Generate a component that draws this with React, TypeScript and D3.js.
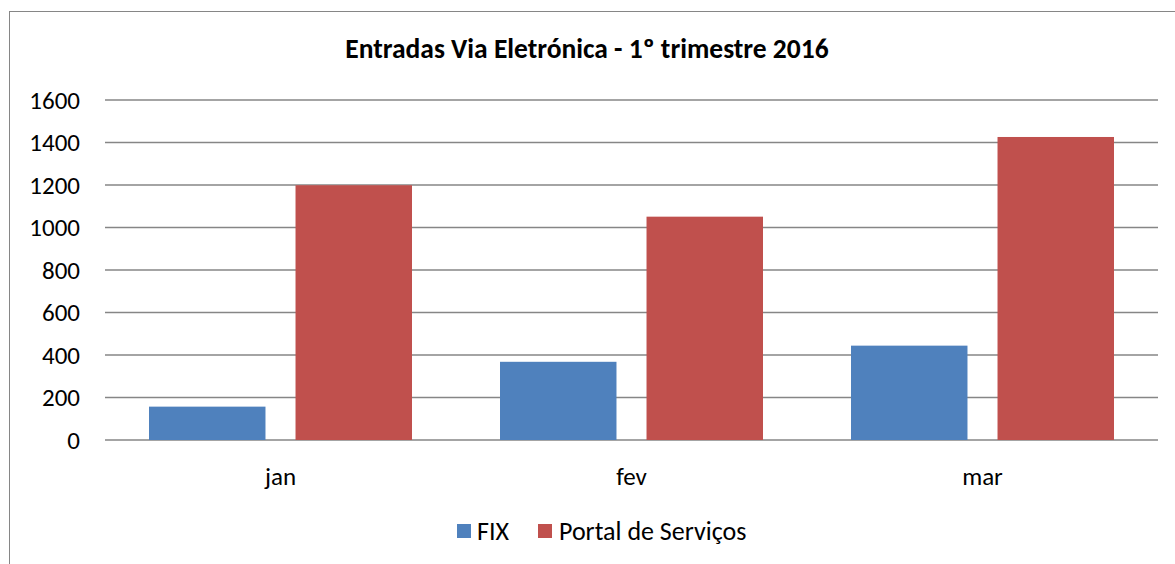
import React from "react"
import { scaleBand, scaleLinear } from "d3"

const months = ["jan", "fev", "mar"]
const seriesNames = ["FIX", "Portal de Serviços"]
const fixValues = [157, 368, 444]
const portalValues = [1199, 1051, 1426]
const yTicks = [0, 200, 400, 600, 800, 1000, 1200, 1400, 1600]
const colors = ["#4f81bd", "#c0504d"]

const App = () => {
  const width = 1175
  const height = 564
  const plot = { left: 105, right: 1158, top: 100, bottom: 440 }
  const font = "Carlito, Calibri, 'Open Sans', sans-serif"

  const xScale = scaleBand()
    .domain(months)
    .range([plot.left, plot.right])

  // two bars inside each month with a small gap
  const inner = scaleBand()
    .domain(seriesNames)
    .range([44, xScale.bandwidth() - 44])
    .paddingInner(0.205)

  const yScale = scaleLinear()
    .domain([0, 1600])
    .range([plot.bottom, plot.top])

  const series = [fixValues, portalValues]

  return (
    <svg
      width={width}
      height={height}
      style={{ position: "absolute", left: 0, top: 0, background: "#fff" }}
    >
      <rect x={9.5} y={11.5} width={1180} height={600} fill="#fff" stroke="#868686" />
      <text
        x={587}
        y={58}
        textAnchor="middle"
        fontFamily={font}
        fontWeight="bold"
        fontSize={27.5}
      >
        Entradas Via Eletrónica - 1º trimestre 2016
      </text>
      {yTicks.map((t) => (
        <g key={t}>
          <line
            x1={plot.left}
            x2={plot.right}
            y1={yScale(t)}
            y2={yScale(t)}
            stroke="#868686"
            strokeWidth={1.5}
          />
          <text
            x={80}
            y={yScale(t)}
            dy="0.35em"
            textAnchor="end"
            fontFamily={font}
            fontSize={25}
          >
            {t}
          </text>
        </g>
      ))}
      {series.map((vals, si) =>
        vals.map((v, i) => (
          <rect
            key={`${si}-${i}`}
            x={xScale(months[i]) + inner(seriesNames[si])}
            y={yScale(v)}
            width={inner.bandwidth()}
            height={yScale(0) - yScale(v)}
            fill={colors[si]}
          />
        ))
      )}
      {months.map((m) => (
        <text
          key={m}
          x={xScale(m) + xScale.bandwidth() / 2}
          y={476}
          dy="0.35em"
          textAnchor="middle"
          fontFamily={font}
          fontSize={25}
        >
          {m}
        </text>
      ))}
      <g>
        <rect x={457} y={524} width={14} height={14} fill={colors[0]} />
        <text x={477} y={531} dy="0.35em" fontFamily={font} fontSize={26}>
          {seriesNames[0]}
        </text>
        <rect x={538} y={524} width={14} height={14} fill={colors[1]} />
        <text x={559} y={531} dy="0.35em" fontFamily={font} fontSize={26}>
          {seriesNames[1]}
        </text>
      </g>
    </svg>
  )
}

export default App
